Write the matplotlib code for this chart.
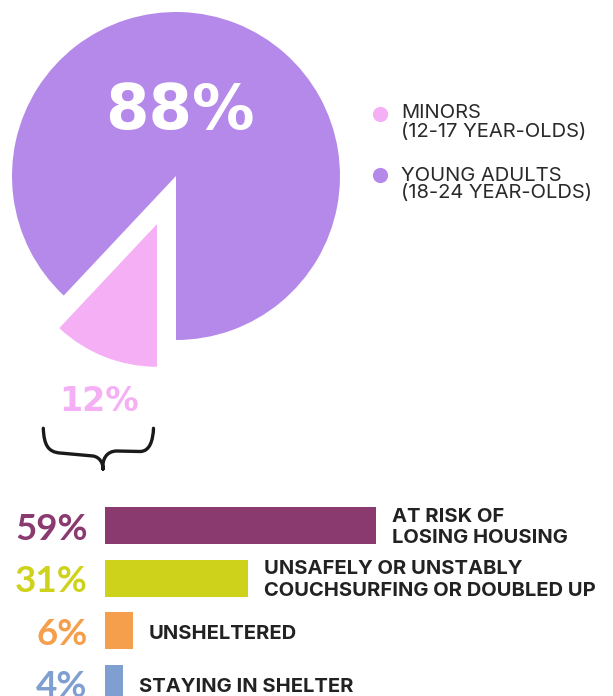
import matplotlib
matplotlib.use("Agg")
import matplotlib.pyplot as plt
from matplotlib.path import Path
from matplotlib.patches import PathPatch

# ---- data ----
age_groups = ["MINORS\n(12-17 YEAR-OLDS)", "YOUNG ADULTS\n(18-24 YEAR-OLDS)"]
age_shares = [12, 88]
age_colors = ["#F5AFF5", "#B489EA"]

situations = ["AT RISK OF\nLOSING HOUSING",
              "UNSAFELY OR UNSTABLY\nCOUCHSURFING OR DOUBLED UP",
              "UNSHELTERED",
              "STAYING IN SHELTER"]
situation_shares = [59, 31, 6, 4]
situation_colors = ["#8B3A6F", "#CFD21A", "#F59E4B", "#7F9FD1"]

W, H = 613, 696
fig = plt.figure(figsize=(W / 100, H / 100), dpi=100)
fig.patch.set_facecolor("white")

def Y(y):
    return H - y

# ---- pie (pixel data coordinates, y up) ----
ax = fig.add_axes([0, 0, 1, 1])
start = 270 - 360 * age_shares[0] / sum(age_shares)
wedges, _ = ax.pie(age_shares, colors=age_colors, startangle=start,
                   counterclock=True, radius=164, center=(176, Y(176)),
                   explode=[51.7, 0], wedgeprops=dict(linewidth=0))
wedges[0].set_radius(142.7)
ax.set_xlim(0, W)
ax.set_ylim(0, H)
ax.set_aspect("auto")
ax.axis("off")

ax.text(179.5, Y(129), f"{age_shares[1]}%", color="white", fontsize=45,
        fontweight="bold", family="DejaVu Sans", ha="center", va="baseline")
ax.text(98.7, Y(410.7), f"{age_shares[0]}%", color=age_colors[0], fontsize=24,
        fontweight="bold", family="DejaVu Sans", ha="center", va="baseline")

# brace
verts_img = [(43.3, 428.3), (44, 445), (48, 452), (60, 453),
             (93, 456),
             (99, 457), (103, 462), (103, 469),
             (103, 469),
             (102, 460), (106, 451), (117, 451),
             (140, 451.5),
             (150, 451.5), (153, 440), (153.5, 428.3)]
codes = [Path.MOVETO, Path.CURVE4, Path.CURVE4, Path.CURVE4,
         Path.LINETO,
         Path.CURVE4, Path.CURVE4, Path.CURVE4,
         Path.MOVETO,
         Path.CURVE4, Path.CURVE4, Path.CURVE4,
         Path.LINETO,
         Path.CURVE4, Path.CURVE4, Path.CURVE4]
verts = [(x, Y(y)) for x, y in verts_img]
ax.add_patch(PathPatch(Path(verts, codes), facecolor="none", edgecolor="#1a1a1a",
                       linewidth=2.4, capstyle="round", joinstyle="round"))

# legend
legend_rows = [(114, 118, 136.7), (175, 180.7, 198.3)]
for (dot_y, b1, b2), label, col in zip(legend_rows, age_groups, age_colors):
    ax.scatter([379.5], [Y(dot_y)], s=120, color=col, linewidths=0)
    l1, l2 = label.split("\n")
    for txt, b in ((l1, b1), (l2, b2)):
        ax.text(401, Y(b), txt, fontsize=14.5, family="Inter", color="#2a2a2a",
                va="baseline", ha="left")

# ---- bars ----
step = 52.55
top_img = 525.7 - step / 2
bottom_img = top_img + step * len(situations)
px_per_pct = 4.6
ax_w = 500
ax2 = fig.add_axes([105 / W, (H - bottom_img) / H, ax_w / W, (bottom_img - top_img) / H])
ax2.barh(range(len(situations)), situation_shares, height=0.7,
         color=situation_colors, linewidth=0)
ax2.set_xlim(0, ax_w / px_per_pct)
ax2.set_ylim(len(situations) - 0.5, -0.5)
ax2.axis("off")

PT = 0.72  # points per pixel
for i, (lab, v, col) in enumerate(zip(situations, situation_shares, situation_colors)):
    ax2.annotate(f"{v}%", xy=(0, i), xytext=(-17.5 * PT, -14 * PT),
                 textcoords="offset points", ha="right", va="baseline",
                 fontsize=26.5, family="Lato", fontweight="bold",
                 color=col, annotation_clip=False)
    lines = lab.split("\n")
    if len(lines) == 2:
        offs = [-4, -4 + 21.6]
    else:
        offs = [8.3]
    for ln, o in zip(lines, offs):
        ax2.annotate(ln, xy=(v, i), xytext=(16 * PT, -o * PT),
                     textcoords="offset points", ha="left", va="baseline",
                     fontsize=14.5, family="Inter", fontweight="bold",
                     color="#222222", annotation_clip=False)

fig.savefig("out.png", dpi=100)
